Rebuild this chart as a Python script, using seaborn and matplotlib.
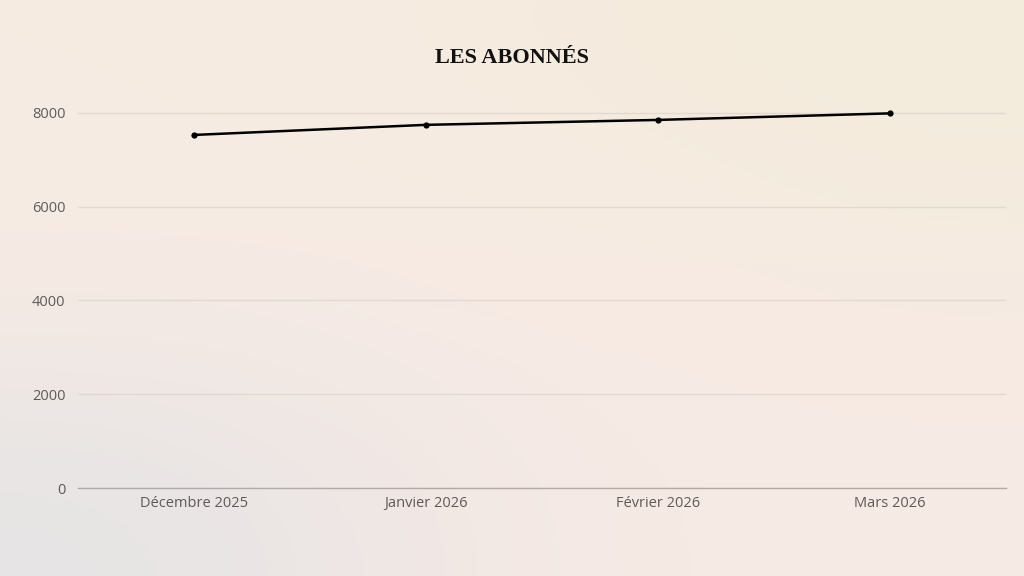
import numpy as np
import pandas as pd
import matplotlib
matplotlib.use("Agg")
import matplotlib.pyplot as plt
import seaborn as sns
from matplotlib.colors import to_rgb

months = ["Décembre 2025", "Janvier 2026", "Février 2026", "Mars 2026"]
abonnes = [7530, 7745, 7850, 7990]
y_ticks = [0, 2000, 4000, 6000, 8000]
title = "LES ABONNÉS"

df = pd.DataFrame({"mois": months, "abonnes": abonnes})

sns.set_theme(style="white")
plt.rcParams["font.family"] = ["Open Sans", "DejaVu Sans"]

fig = plt.figure(figsize=(10.24, 5.76), dpi=100)

# background gradient
bg = fig.add_axes([0, 0, 1, 1], zorder=-10)
grid = np.array([
    [to_rgb("#f7ece2"), to_rgb("#f5ecdf"), to_rgb("#f3ebdb")],
    [to_rgb("#f7ebe4"), to_rgb("#f8ebe5"), to_rgb("#f6ebe2")],
    [to_rgb("#e5e4e5"), to_rgb("#f5e9e5"), to_rgb("#f7ebe5")],
])
bg.imshow(grid, aspect="auto", interpolation="bicubic", extent=[0, 1, 0, 1])
bg.set_axis_off()

ax = fig.add_axes([78 / 1024, 88 / 576, (1006 - 78) / 1024, 422 / 576])
ax.patch.set_alpha(0)

sns.lineplot(data=df, x="mois", y="abonnes", ax=ax, color="black", linewidth=1.8,
             marker="o", markersize=4.5, markeredgewidth=0, sort=False)

ax.set_xlim(-0.5, len(months) - 0.5)
ax.set_ylim(0, 9000)
ax.set_yticks(y_ticks)
ax.set_yticklabels([str(t) for t in y_ticks])
ax.grid(axis="y", color="#e2d9d1", linewidth=1)
ax.grid(axis="x", visible=False)
ax.set_axisbelow(True)
for s in ["top", "right", "left"]:
    ax.spines[s].set_visible(False)
ax.spines["bottom"].set_color("#b0aaa8")
ax.spines["bottom"].set_linewidth(1)
ax.tick_params(axis="both", length=0, labelsize=10.5, labelcolor="#5e5a58")
ax.tick_params(axis="y", pad=9)
ax.tick_params(axis="x", pad=6)
ax.set_xlabel("")
ax.set_ylabel("")

fig.text(0.5, 1 - 58 / 576, title, ha="center", va="center",
         fontsize=16, fontweight="bold", family=["Liberation Serif", "DejaVu Serif"],
         color="#111111")

fig.savefig("out.png", dpi=100)
